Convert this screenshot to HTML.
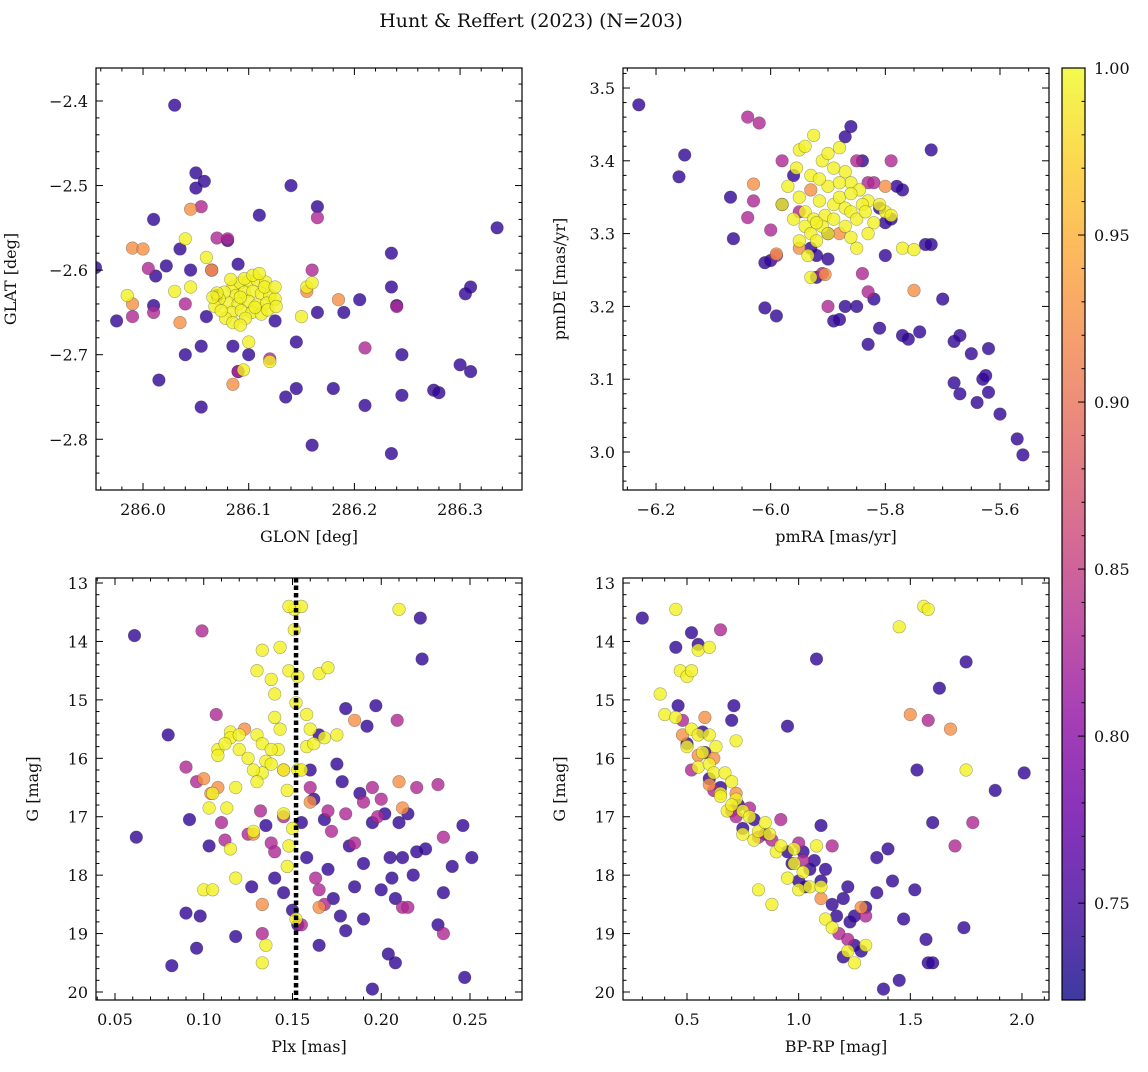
<!DOCTYPE html>
<html><head><meta charset="utf-8">
<style>
body{margin:0;background:#fff;}
svg text{font-family:"DejaVu Serif","Liberation Serif",serif;fill:#111;}
</style></head>
<body>
<svg id="fig" width="1148" height="1067" viewBox="0 0 1148 1067" xmlns="http://www.w3.org/2000/svg">
<defs>
<linearGradient id="plasma" x1="0" y1="1" x2="0" y2="0">
<stop offset="0" stop-color="#0d0887"/><stop offset="0.1" stop-color="#41049d"/><stop offset="0.2" stop-color="#6a00a8"/><stop offset="0.3" stop-color="#8f0da4"/><stop offset="0.4" stop-color="#b12a90"/><stop offset="0.5" stop-color="#cc4778"/><stop offset="0.6" stop-color="#e16462"/><stop offset="0.7" stop-color="#f2844b"/><stop offset="0.8" stop-color="#fca636"/><stop offset="0.9" stop-color="#fcce25"/><stop offset="1" stop-color="#f0f921"/>
</linearGradient>
</defs>
<text x="531" y="27" font-size="19" text-anchor="middle">Hunt &amp; Reffert (2023) (N=203)</text>
</svg>
<script>
const groupProbs = [0.74, 0.83, 0.925, 0.995];
const lonLat = [
[[286.03,-2.405],[285.955,-2.597],[285.975,-2.66],[286.01,-2.54],[286.012,-2.607],[286.022,-2.595],[286.01,-2.642],[286.015,-2.73],[286.035,-2.575],[286.045,-2.6],[286.04,-2.7],[286.05,-2.485],[286.05,-2.503],[286.058,-2.495],[286.055,-2.69],[286.055,-2.762],[286.06,-2.655],[286.07,-2.63],[286.08,-2.565],[286.085,-2.69],[286.09,-2.72],[286.09,-2.593],[286.1,-2.7],[286.11,-2.535],[286.125,-2.66],[286.135,-2.75],[286.14,-2.5],[286.145,-2.74],[286.145,-2.685],[286.16,-2.807],[286.165,-2.525],[286.165,-2.65],[286.18,-2.74],[286.19,-2.65],[286.205,-2.635],[286.21,-2.76],[286.235,-2.58],[286.235,-2.62],[286.235,-2.817],[286.24,-2.642],[286.245,-2.7],[286.245,-2.748],[286.275,-2.742],[286.28,-2.745],[286.3,-2.712],[286.305,-2.628],[286.31,-2.62],[286.31,-2.72],[286.335,-2.55]],
[[285.99,-2.655],[286.005,-2.598],[286.01,-2.65],[286.04,-2.64],[286.055,-2.525],[286.065,-2.6],[286.07,-2.562],[286.08,-2.563],[286.09,-2.72],[286.12,-2.705],[286.16,-2.6],[286.165,-2.538],[286.21,-2.692],[286.24,-2.643]],
[[285.99,-2.574],[286.0,-2.575],[285.99,-2.64],[286.035,-2.662],[286.045,-2.528],[286.065,-2.6],[286.085,-2.735],[286.185,-2.635],[286.155,-2.625]],
[[285.985,-2.63],[286.04,-2.563],[286.045,-2.62],[286.06,-2.585],[286.1,-2.685],[286.095,-2.718],[286.12,-2.708],[286.15,-2.655],[286.155,-2.62],[286.16,-2.615],[286.03,-2.625],
[286.085,-2.62],[286.092,-2.615],[286.1,-2.613],[286.108,-2.612],[286.116,-2.614],[286.088,-2.63],[286.096,-2.626],[286.104,-2.625],[286.112,-2.628],[286.12,-2.63],[286.08,-2.638],[286.09,-2.64],[286.1,-2.637],[286.108,-2.641],[286.117,-2.639],[286.125,-2.634],[286.084,-2.65],[286.093,-2.648],[286.103,-2.65],[286.112,-2.652],[286.077,-2.626],[286.072,-2.634],[286.078,-2.657],[286.085,-2.662],[286.097,-2.657],[286.096,-2.61],[286.104,-2.606],[286.115,-2.62],[286.125,-2.62],[286.068,-2.643],[286.07,-2.627],[286.092,-2.632],[286.106,-2.644],[286.083,-2.611],[286.118,-2.647],[286.126,-2.643],[286.074,-2.648],[286.066,-2.632],[286.092,-2.665],[286.11,-2.604]]
];
const pmPts = [
[[-6.23,3.477],[-6.15,3.408],[-6.16,3.378],[-6.07,3.35],[-6.065,3.293],[-6.01,3.26],[-6.0,3.263],[-6.01,3.198],[-5.99,3.187],[-5.98,3.34],[-5.93,3.28],[-5.92,3.27],[-5.9,3.265],[-5.89,3.18],[-5.88,3.182],[-5.87,3.2],[-5.85,3.2],[-5.83,3.148],[-5.82,3.21],[-5.81,3.17],[-5.8,3.27],[-5.8,3.315],[-5.79,3.32],[-5.77,3.36],[-5.77,3.16],[-5.76,3.155],[-5.74,3.165],[-5.73,3.285],[-5.72,3.285],[-5.72,3.415],[-5.7,3.21],[-5.68,3.152],[-5.67,3.16],[-5.68,3.095],[-5.67,3.08],[-5.65,3.135],[-5.64,3.068],[-5.63,3.1],[-5.625,3.105],[-5.62,3.142],[-5.62,3.082],[-5.6,3.052],[-5.57,3.018],[-5.56,2.996],[-5.86,3.447],[-5.87,3.433],[-5.96,3.38],[-5.84,3.4],[-5.78,3.365],[-5.81,3.335],[-5.9,3.3],[-5.92,3.24]],
[[-6.04,3.46],[-6.02,3.452],[-6.04,3.322],[-6.03,3.345],[-6.0,3.305],[-5.99,3.27],[-5.85,3.4],[-5.83,3.37],[-5.79,3.4],[-5.9,3.2],[-5.83,3.22],[-5.84,3.245],[-5.98,3.4],[-5.95,3.33],[-5.82,3.37],[-5.91,3.245]],
[[-6.03,3.368],[-5.99,3.272],[-5.95,3.28],[-5.905,3.244],[-5.8,3.365],[-5.75,3.222],[-5.93,3.36],[-5.88,3.3]],
[[-5.95,3.415],[-5.94,3.42],[-5.925,3.435],[-5.97,3.365],[-5.955,3.39],[-5.93,3.38],[-5.91,3.4],[-5.9,3.41],[-5.88,3.418],[-5.87,3.385],[-5.86,3.37],[-5.845,3.36],[-5.83,3.345],[-5.8,3.33],[-5.95,3.35],[-5.94,3.33],[-5.925,3.32],[-5.915,3.345],[-5.905,3.325],[-5.89,3.34],[-5.88,3.35],[-5.87,3.335],[-5.86,3.33],[-5.85,3.32],[-5.84,3.34],[-5.835,3.33],[-5.82,3.315],[-5.94,3.31],[-5.93,3.3],[-5.92,3.29],[-5.91,3.31],[-5.9,3.3],[-5.89,3.32],[-5.87,3.31],[-5.86,3.295],[-5.85,3.28],[-5.95,3.29],[-5.935,3.27],[-5.92,3.315],[-5.9,3.365],[-5.88,3.37],[-5.86,3.355],[-5.915,3.375],[-5.96,3.32],[-5.83,3.3],[-5.81,3.34],[-5.77,3.28],[-5.75,3.278],[-5.79,3.325],[-5.93,3.24],[-5.98,3.34],[-5.89,3.39]]
];
const plxG = [
[[0.061,13.9],[0.062,17.35],[0.082,19.55],[0.09,18.65],[0.092,17.05],[0.096,19.25],[0.098,18.7],[0.103,17.5],[0.118,19.05],[0.127,18.2],[0.135,17.15],[0.14,18.05],[0.145,18.3],[0.15,18.6],[0.153,18.85],[0.155,17.1],[0.16,16.2],[0.162,16.7],[0.165,15.6],[0.168,17.05],[0.17,17.9],[0.173,18.4],[0.175,16.1],[0.178,16.4],[0.18,15.15],[0.18,18.95],[0.182,17.5],[0.185,18.2],[0.188,16.6],[0.19,17.8],[0.192,15.45],[0.195,17.1],[0.195,19.95],[0.197,15.1],[0.2,18.25],[0.202,16.95],[0.204,19.35],[0.205,17.7],[0.206,18.05],[0.208,18.4],[0.208,19.5],[0.21,17.1],[0.212,17.7],[0.215,16.95],[0.218,18.0],[0.22,17.6],[0.222,13.6],[0.223,14.3],[0.225,17.55],[0.232,18.85],[0.235,18.3],[0.24,17.85],[0.246,17.15],[0.247,19.75],[0.251,17.7],[0.165,19.2],[0.177,18.7],[0.19,18.75],[0.158,17.7],[0.08,15.6]],
[[0.09,16.15],[0.096,16.4],[0.099,13.82],[0.107,15.25],[0.11,17.1],[0.112,17.4],[0.125,17.3],[0.132,16.9],[0.138,17.45],[0.133,19.0],[0.14,17.6],[0.16,16.5],[0.163,18.05],[0.165,18.25],[0.17,16.9],[0.172,17.25],[0.18,16.95],[0.19,16.75],[0.195,16.5],[0.198,17.0],[0.2,16.7],[0.209,15.35],[0.212,18.55],[0.215,18.55],[0.22,16.5],[0.232,16.45],[0.235,17.35],[0.235,19.0],[0.155,18.85],[0.145,17.0],[0.168,18.5],[0.185,17.45]],
[[0.104,16.6],[0.108,16.5],[0.123,15.5],[0.133,18.5],[0.16,16.75],[0.165,18.55],[0.185,15.35],[0.21,16.4],[0.212,16.85],[0.128,17.3],[0.145,16.2],[0.1,16.35]],
[[0.151,13.45],[0.155,13.4],[0.151,13.8],[0.21,13.45],[0.133,14.15],[0.143,14.1],[0.148,14.5],[0.153,14.6],[0.148,13.4],[0.165,14.55],[0.17,14.45],[0.13,14.5],[0.138,14.65],[0.14,14.9],[0.14,15.3],[0.143,15.5],[0.142,15.85],[0.152,15.05],[0.158,15.25],[0.16,15.5],[0.158,15.8],[0.162,15.75],[0.168,15.65],[0.175,15.6],[0.13,15.6],[0.133,15.75],[0.135,16.05],[0.138,15.85],[0.133,16.25],[0.128,16.2],[0.125,16.0],[0.12,15.85],[0.115,15.55],[0.115,15.65],[0.12,15.6],[0.108,15.85],[0.108,15.95],[0.112,15.75],[0.105,16.6],[0.103,16.85],[0.113,16.85],[0.118,16.5],[0.115,17.55],[0.1,18.25],[0.105,18.25],[0.118,18.05],[0.128,17.25],[0.13,16.4],[0.138,16.1],[0.147,16.55],[0.145,16.95],[0.15,17.2],[0.148,17.5],[0.147,17.85],[0.152,18.75],[0.135,19.2],[0.133,19.5],[0.153,16.2],[0.145,16.2],[0.155,16.2]]
];
const colorG = [
[[0.3,13.6],[0.45,14.1],[0.52,13.85],[0.55,14.05],[0.46,15.1],[0.5,15.75],[0.57,15.55],[0.58,15.9],[0.6,16.35],[0.65,16.5],[0.7,15.35],[0.71,15.1],[0.73,16.8],[0.75,17.2],[0.8,17.05],[0.85,17.3],[0.95,15.45],[0.95,17.6],[0.97,17.8],[1.0,18.1],[1.02,17.6],[1.05,17.9],[1.07,17.75],[1.08,14.3],[1.1,17.15],[1.12,17.9],[1.15,18.5],[1.17,18.7],[1.2,18.4],[1.2,19.4],[1.22,18.2],[1.23,18.8],[1.25,19.2],[1.25,18.7],[1.28,19.3],[1.3,18.55],[1.35,17.7],[1.35,18.3],[1.38,19.95],[1.4,17.55],[1.42,18.1],[1.45,19.8],[1.47,18.75],[1.52,18.25],[1.53,16.2],[1.57,19.1],[1.58,19.5],[1.6,19.5],[1.6,17.1],[1.63,14.8],[1.74,18.9],[1.75,14.35],[1.88,16.55],[2.01,16.25],[1.03,18.2],[1.1,18.1]],
[[0.48,15.35],[0.52,16.2],[0.62,16.55],[0.65,13.8],[0.7,16.9],[0.72,17.0],[0.78,16.85],[0.88,17.4],[0.92,17.05],[1.0,17.45],[1.15,17.5],[1.18,19.0],[1.22,19.1],[1.3,18.7],[1.58,15.35],[1.7,17.5],[1.78,17.1],[0.82,17.35],[1.02,17.75]],
[[0.48,15.6],[0.58,15.3],[0.6,16.45],[0.72,16.6],[1.1,18.4],[1.28,18.55],[1.5,15.25],[1.68,15.5],[0.55,15.95],[0.62,16.0]],
[[0.38,14.9],[0.4,15.25],[0.45,13.45],[0.47,14.5],[0.5,14.6],[0.52,14.5],[0.55,14.15],[0.6,14.1],[0.45,15.3],[0.5,15.8],[0.52,15.5],[0.55,15.6],[0.55,16.15],[0.57,15.9],[0.6,15.6],[0.6,16.1],[0.62,16.25],[0.63,15.8],[0.65,16.6],[0.67,16.25],[0.68,16.9],[0.7,16.4],[0.72,16.7],[0.72,15.7],[0.75,16.9],[0.75,17.3],[0.78,17.0],[0.8,17.4],[0.82,17.25],[0.85,17.1],[0.87,17.3],[0.88,18.5],[0.9,17.6],[0.92,17.5],[0.95,18.05],[0.98,17.8],[1.0,18.25],[1.02,17.95],[1.05,18.2],[1.08,17.5],[1.1,18.2],[1.12,18.75],[1.15,18.9],[1.22,19.3],[1.25,19.5],[1.3,19.2],[1.45,13.75],[1.56,13.4],[1.58,13.45],[1.75,16.2],[0.82,18.25],[0.98,17.55],[0.65,16.65],[0.7,16.8]]
];
const plxLine = [0.152];
const cbTicks = [0.75,0.80,0.85,0.90,0.95,1.00];
const cbRange = [0.721, 1.0];

const NS="http://www.w3.org/2000/svg";
const svg=document.getElementById('fig');
function mk(tag,attrs,parent){const e=document.createElementNS(NS,tag);for(const k in attrs)e.setAttribute(k,attrs[k]);(parent||svg).appendChild(e);return e;}
const stops=[[0,[13,8,135]],[0.1,[65,4,157]],[0.2,[106,0,168]],[0.3,[143,13,164]],[0.4,[177,42,144]],[0.5,[204,71,120]],[0.6,[225,100,98]],[0.7,[242,132,75]],[0.8,[252,166,54]],[0.9,[252,206,37]],[1,[240,249,33]]];
function plasma(t){t=Math.max(0,Math.min(1,t));for(let i=1;i<stops.length;i++){if(t<=stops[i][0]){const a=stops[i-1],b=stops[i];const f=(t-a[0])/(b[0]-a[0]);const c=a[1].map((v,j)=>Math.round(v+(b[1][j]-v)*f));return `rgb(${c[0]},${c[1]},${c[2]})`;}}return 'rgb(240,249,33)';}
const fmt=(v,d)=>{const s=Math.abs(v).toFixed(d);return (v<-1e-9?'\u2212':'')+s;};

function panel(cfg){
  const {name,L,T,W,H,xmin,xmax,ymin,ymax,yinv,xmaj,xmin_,xdec,ymaj,ymin_,ydec,xlabel,ylabel,data}=cfg;
  const g=mk('g',{});  
  const sx=v=>L+(v-xmin)/(xmax-xmin)*W;
  const sy=v=>yinv? T+(v-ymin)/(ymax-ymin)*H : T+H-(v-ymin)/(ymax-ymin)*H;
  const clip=mk('clipPath',{id:name+'-clip'},g); mk('rect',{x:L,y:T,width:W,height:H},clip);
  const pts=mk('g',{'clip-path':`url(#${name}-clip)`},g);
   
  data.forEach((grp,gi)=>{const p=groupProbs[gi];const col=plasma((p-cbRange[0])/(cbRange[1]-cbRange[0]));
    grp.forEach(d=>{const c=mk('circle',{cx:sx(d[0]).toFixed(1),cy:sy(d[1]).toFixed(1),r:6.3,fill:col,'fill-opacity':0.8,stroke:'rgba(40,40,40,0.4)','stroke-width':0.6},pts);
       });});
  if(cfg.vline){cfg.vline.forEach(v=>{const l=mk('line',{x1:sx(v),x2:sx(v),y1:T,y2:T+H,stroke:'#000','stroke-width':4.5,'stroke-dasharray':'4.5,3'},g);
     });}
  mk('rect',{x:L,y:T,width:W,height:H,fill:'none',stroke:'#000','stroke-width':1.2},g);
  const tk=mk('g',{stroke:'#000','stroke-width':1},g);
  const eps=1e-9;
  for(let v=Math.ceil(xmin/xmin_-eps)*xmin_;v<=xmax+eps;v+=xmin_){const x=sx(v);const maj=Math.abs(v/xmaj-Math.round(v/xmaj))<1e-4;const len=maj?7:3.5;
    mk('line',{x1:x,x2:x,y1:T+H,y2:T+H-len},tk);mk('line',{x1:x,x2:x,y1:T,y2:T+len},tk);
    if(maj){const t=mk('text',{x:x,y:T+H+25,'font-size':16,'text-anchor':'middle'},g);t.textContent=fmt(v,xdec);}}
  for(let v=Math.ceil(ymin/ymin_-eps)*ymin_;v<=ymax+eps;v+=ymin_){const y=sy(v);const maj=Math.abs(v/ymaj-Math.round(v/ymaj))<1e-4;const len=maj?7:3.5;
    mk('line',{x1:L,x2:L+len,y1:y,y2:y},tk);mk('line',{x1:L+W,x2:L+W-len,y1:y,y2:y},tk);
    if(maj){const t=mk('text',{x:L-8,y:y+6,'font-size':16,'text-anchor':'end'},g);t.textContent=fmt(v,ydec);}}
  const xl=mk('text',{x:L+W/2,y:T+H+52,'font-size':16,'text-anchor':'middle'},g);xl.textContent=xlabel;
  
  const yx=L-(cfg.ylx||74);const yl=mk('text',{x:yx,y:T+H/2,'font-size':16,'text-anchor':'middle',transform:`rotate(-90 ${yx} ${T+H/2})`},g);yl.textContent=ylabel;
  
}
panel({name:'glon-glat-panel',L:96,T:68,W:426,H:422,xmin:285.9555,xmax:286.3586,ymin:-2.860,ymax:-2.361,xmaj:0.1,xmin_:0.02,xdec:1,ymaj:0.1,ymin_:0.02,ydec:1,xlabel:'GLON [deg]',ylabel:'GLAT [deg]',data:lonLat,ylx:80});
panel({name:'pm-panel',L:623,T:68,W:426,H:422,xmin:-6.2576,xmax:-5.5145,ymin:2.9478,ymax:3.5275,xmaj:0.2,xmin_:0.05,xdec:1,ymaj:0.1,ymin_:0.02,ydec:1,xlabel:'pmRA [mas/yr]',ylabel:'pmDE [mas/yr]',data:pmPts,ylx:58});
panel({name:'plx-g-panel',L:96,T:578,W:426,H:422,xmin:0.0393,xmax:0.2793,ymin:12.914,ymax:20.137,yinv:true,xmaj:0.05,xmin_:0.01,xdec:2,ymaj:1,ymin_:0.2,ydec:0,xlabel:'Plx [mas]',ylabel:'G [mag]',data:plxG,vline:plxLine,ylx:58});
panel({name:'cmd-panel',L:623,T:578,W:426,H:422,xmin:0.2134,xmax:2.121,ymin:12.914,ymax:20.137,yinv:true,xmaj:0.5,xmin_:0.1,xdec:1,ymaj:1,ymin_:0.2,ydec:0,xlabel:'BP-RP [mag]',ylabel:'G [mag]',data:colorG,ylx:58});

const cb=mk('g',{});
const cL=1062,cT=68,cW=23,cH=932;
mk('rect',{x:cL,y:cT,width:cW,height:cH,fill:'url(#plasma)','fill-opacity':0.8},cb);
mk('rect',{x:cL,y:cT,width:cW,height:cH,fill:'none',stroke:'#000','stroke-width':1.2},cb);
const cy=v=>cT+cH-(v-cbRange[0])/(cbRange[1]-cbRange[0])*cH;
for(let v=0.73;v<=1.0001;v+=0.01){const y=cy(v);const maj=Math.abs(v*20-Math.round(v*20))<1e-4;mk('line',{x1:cL+cW,x2:cL+cW-(maj?7:3.5),y1:y,y2:y,stroke:'#000'},cb);}
cbTicks.forEach(v=>{const t=mk('text',{x:cL+cW+9,y:cy(v)+6,'font-size':16},cb);t.textContent=v.toFixed(2);});
</script>
</body></html>
